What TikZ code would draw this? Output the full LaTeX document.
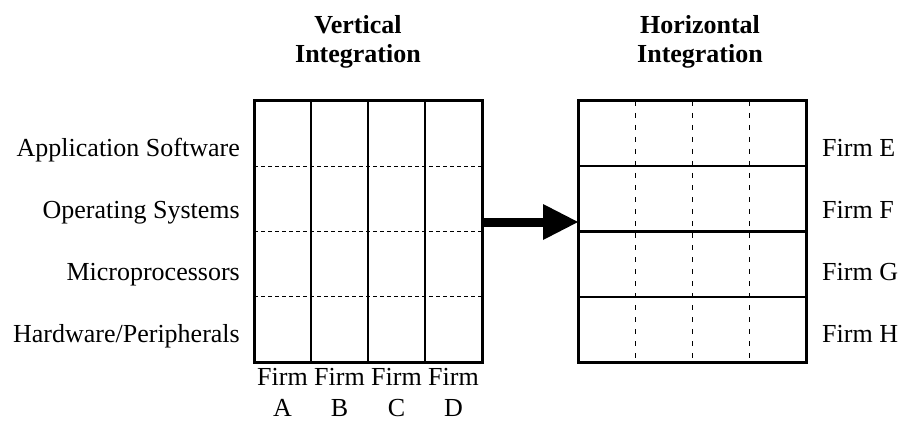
\documentclass[tikz,border=0pt]{standalone}
\usepackage{fontspec}
\setmainfont{Liberation Serif}
\usetikzlibrary{arrows.meta,calc}

\begin{document}
\begin{tikzpicture}[x=1pt, y=-1pt, every node/.style={font=\fontsize{26}{31}\selectfont, inner sep=0pt}]
  \tikzset{
    gridbox/.style={draw, line width=3pt, minimum width=228pt, minimum height=261pt, outer sep=0pt},
    divider/.style={line width=2.5pt},
    rowline/.style={line width=1.1pt, dash pattern=on 4pt off 3pt},
    colline/.style={line width=0.9pt, dash pattern=on 5pt off 7pt},
    title/.style={font=\fontsize{26}{29}\selectfont\bfseries, align=center, anchor=north}
  }
  \useasboundingbox (0,0) rectangle (901,422);

  % two blocks of four by four cells
  \node[gridbox] (VI) at (368,231.5) {};
  \node[gridbox] (HI) at (692,231.5) {};
  \node[title] (VItitle) at (358,15) {Vertical\\Integration};
  \node[title] (HItitle) at (700,15) {Horizontal\\Integration};

  \foreach \i in {1,2,3} {
    \draw[divider] ($(VI.north west)!\i/4!(VI.north east)$) -- ($(VI.south west)!\i/4!(VI.south east)$);
    \draw[rowline] ($(VI.north west)!\i/4!(VI.south west)$) -- ($(VI.north east)!\i/4!(VI.south east)$);
    \draw[divider] ($(HI.north west)!\i/4!(HI.south west)$) -- ($(HI.north east)!\i/4!(HI.south east)$);
    \draw[colline] ($(HI.north west)!\i/4!(HI.north east)$) -- ($(HI.south west)!\i/4!(HI.south east)$);
  }

  % layers on the left, firms on the right
  \foreach \txt [count=\k] in {Application Software, Operating Systems, Microprocessors, Hardware/Peripherals} {
    \pgfmathsetmacro{\yb}{157+61.7*(\k-1)}
    \node[anchor=base east] (layer\k) at (240,\yb) {\txt};
  }
  \foreach \l [count=\k] in {E,F,G,H} {
    \pgfmathsetmacro{\yb}{157+61.7*(\k-1)}
    \node[anchor=base west] (firm\l) at (822,\yb) {Firm~\l};
  }
  \foreach \l [count=\k] in {A,B,C,D} {
    \pgfmathsetmacro{\xc}{254+57*(\k-0.5)}
    \node[anchor=north, align=center] (firm\l) at (\xc,368) {Firm\\\l};
  }

  \draw[line width=9pt, -{Triangle[length=35pt, width=36pt, line width=0pt]}]
    ([yshift=9.5pt]VI.east) -- ([yshift=9.5pt]HI.west);
\end{tikzpicture}
\end{document}
